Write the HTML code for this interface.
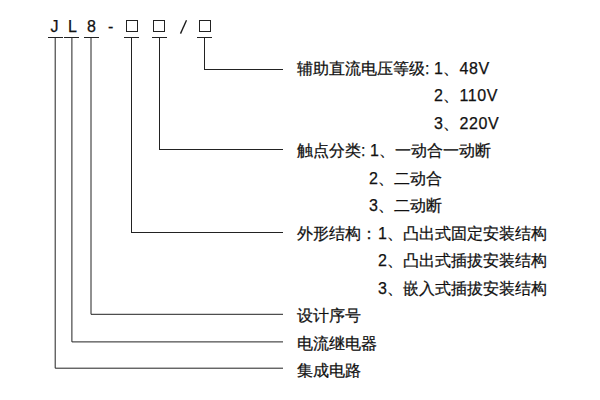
<!DOCTYPE html>
<html><head><meta charset="utf-8">
<style>
html,body{margin:0;padding:0;background:#fff;}
body{width:600px;height:400px;position:relative;overflow:hidden;font-family:"Liberation Sans",sans-serif;color:#111;}
.t{position:absolute;font-size:16px;line-height:16px;white-space:pre;-webkit-text-stroke:0.25px #111;}
.n{letter-spacing:0.6px;}
.h{position:absolute;font-size:16px;line-height:16px;-webkit-text-stroke:0.25px #111;}
svg{position:absolute;left:0;top:0;}
</style></head><body>
<svg width="600" height="400" viewBox="0 0 600 400">
<g stroke="#222" stroke-width="1" fill="none" shape-rendering="crispEdges">
<line x1="48" y1="37.5" x2="63" y2="37.5"/>
<line x1="64" y1="37.5" x2="79" y2="37.5"/>
<line x1="84" y1="37.5" x2="99" y2="37.5"/>
<line x1="124" y1="37.5" x2="139" y2="37.5"/>
<line x1="152" y1="37.5" x2="167" y2="37.5"/>
<line x1="197" y1="37.5" x2="212" y2="37.5"/>
<polyline points="131.5,38 131.5,232.5 283,232.5"/>
<polyline points="159.5,38 159.5,149.5 283,149.5"/>
<polyline points="204.5,38 204.5,69.5 283,69.5"/>
<rect x="126.5" y="20.5" width="11" height="11"/>
<rect x="153.5" y="20.5" width="11" height="11"/>
<rect x="199.5" y="20.5" width="11" height="11"/>
</g>
<g stroke="#222" stroke-width="1" fill="none">
<polyline points="55.2,38 55.2,368.2 283,368.2"/>
<polyline points="71.9,38 71.9,341.9 283,341.9"/>
<polyline points="91,38 91,314.3 283,314.3"/>
<line x1="186.5" y1="20.2" x2="180.5" y2="33.6" stroke-width="1.35" stroke="#1a1a1a"/>
</g>
</svg>
<div class="h" style="left:50.5px;top:19px">J</div>
<div class="h" style="left:68px;top:19px">L</div>
<div class="h" style="left:87px;top:19px">8</div>
<div class="h" style="left:108px;top:19px">-</div>

<div class="t" style="left:297px;top:61px">辅助直流电压等级: 1、<span class="n" style="margin-left:0.6px">48V</span></div>
<div class="t" style="left:434px;top:88px">2、<span class="n" style="margin-left:0.6px">110V</span></div>
<div class="t" style="left:434px;top:116px">3、<span class="n" style="margin-left:0.6px">220V</span></div>
<div class="t" style="left:297px;top:143px">触点分类: 1、一动合一动断</div>
<div class="t" style="left:369px;top:171px">2、二动合</div>
<div class="t" style="left:369px;top:198px">3、二动断</div>
<div class="t" style="left:297px;top:226px">外形结构：<span style="margin-left:1px">1、</span>凸出式固定安装结构</div>
<div class="t" style="left:378px;top:253px">2、凸出式插拔安装结构</div>
<div class="t" style="left:378px;top:281px">3、嵌入式插拔安装结构</div>
<div class="t" style="left:297px;top:308px">设计序号</div>
<div class="t" style="left:297px;top:336px">电流继电器</div>
<div class="t" style="left:297px;top:363px">集成电路</div>
</body></html>
